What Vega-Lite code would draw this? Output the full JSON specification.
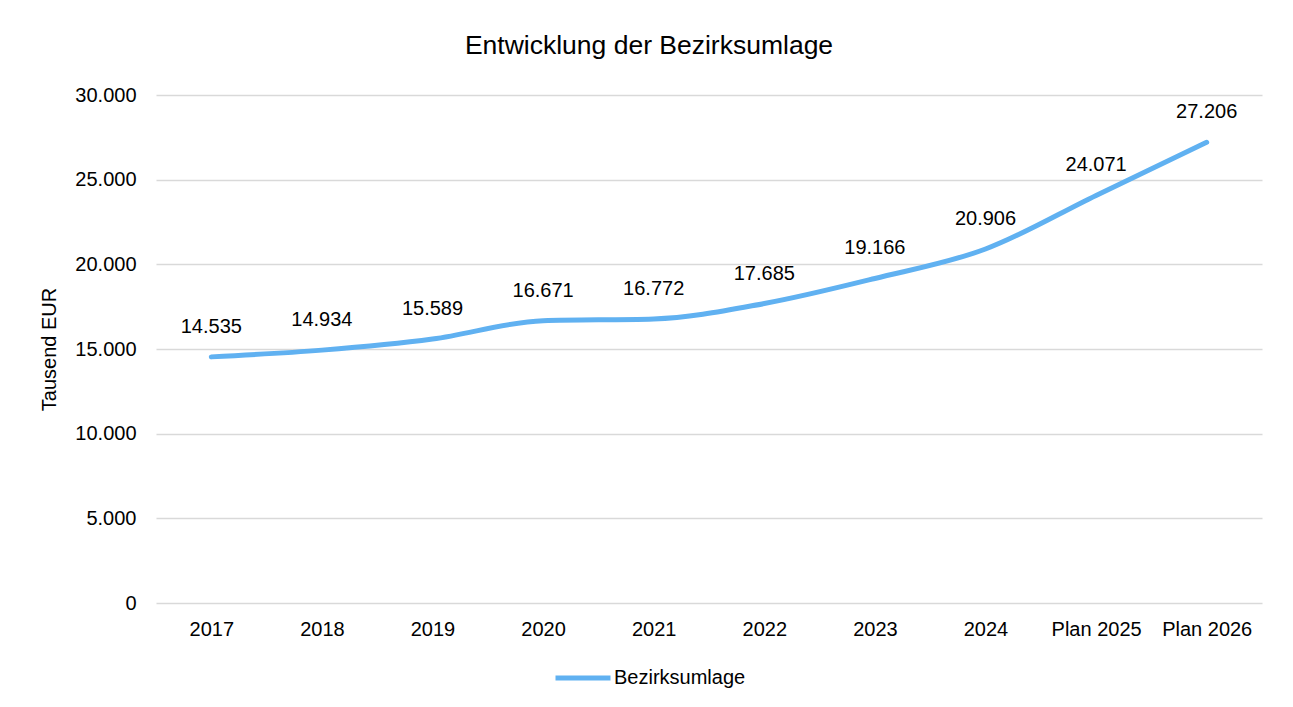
{
  "$schema": "https://vega.github.io/schema/vega-lite/v6.json",
  "autosize": {"type": "none"},
  "width": 1106,
  "height": 508,
  "padding": {"left": 156, "top": 95, "right": 31, "bottom": 104},
  "background": "white",
  "title": {
    "text": "Entwicklung der Bezirksumlage",
    "font": "Liberation Sans",
    "fontSize": 26.5,
    "fontWeight": "normal",
    "color": "#000000",
    "anchor": "middle",
    "dx": -60,
    "offset": 26
  },
  "data": {
    "values": [
      {"jahr": "2017", "wert": 14535, "serie": "Bezirksumlage"},
      {"jahr": "2018", "wert": 14934, "serie": "Bezirksumlage"},
      {"jahr": "2019", "wert": 15589, "serie": "Bezirksumlage"},
      {"jahr": "2020", "wert": 16671, "serie": "Bezirksumlage"},
      {"jahr": "2021", "wert": 16772, "serie": "Bezirksumlage"},
      {"jahr": "2022", "wert": 17685, "serie": "Bezirksumlage"},
      {"jahr": "2023", "wert": 19166, "serie": "Bezirksumlage"},
      {"jahr": "2024", "wert": 20906, "serie": "Bezirksumlage"},
      {"jahr": "Plan 2025", "wert": 24071, "serie": "Bezirksumlage"},
      {"jahr": "Plan 2026", "wert": 27206, "serie": "Bezirksumlage"}
    ]
  },
  "encoding": {
    "x": {
      "field": "jahr",
      "type": "ordinal",
      "sort": null,
      "scale": {"type": "point", "padding": 0.5},
      "axis": {
        "title": null,
        "labelAngle": 0,
        "domain": false,
        "ticks": false,
        "grid": false,
        "labelPadding": 16,
        "labelFontSize": 20,
        "labelFont": "Liberation Sans",
        "labelColor": "#000000"
      }
    },
    "y": {
      "field": "wert",
      "type": "quantitative",
      "scale": {"domain": [0, 30000], "nice": false},
      "axis": {
        "title": "Tausend EUR",
        "titleFont": "Liberation Sans",
        "titleFontSize": 20,
        "titleFontWeight": "normal",
        "titleColor": "#000000",
        "titlePadding": 15,
        "values": [0, 5000, 10000, 15000, 20000, 25000, 30000],
        "format": ",d",
        "domain": false,
        "ticks": false,
        "grid": true,
        "gridColor": "#d9d9d9",
        "gridWidth": 1.5,
        "labelPadding": 20,
        "labelFontSize": 20,
        "labelFont": "Liberation Sans",
        "labelColor": "#000000"
      }
    }
  },
  "layer": [
    {
      "mark": {"type": "line", "interpolate": "monotone", "strokeWidth": 5, "strokeCap": "round"},
      "encoding": {
        "color": {
          "field": "serie",
          "type": "nominal",
          "scale": {"domain": ["Bezirksumlage"], "range": ["#60B1F1"]},
          "legend": {
            "title": null,
            "orient": "none",
            "legendX": 397,
            "legendY": 553,
            "symbolType": "stroke",
            "symbolSize": 3025,
            "symbolStrokeWidth": 5,
            "labelFontSize": 20,
            "labelFont": "Liberation Sans",
            "labelColor": "#000000",
            "labelOffset": 1,
            "padding": 0
          }
        }
      }
    },
    {
      "mark": {"type": "text", "dy": -30, "baseline": "middle", "font": "Liberation Sans", "fontSize": 20, "color": "#000000"},
      "encoding": {
        "text": {"field": "wert", "type": "quantitative", "format": ",d"}
      }
    }
  ],
  "config": {
    "locale": {
      "number": {"decimal": ",", "thousands": ".", "grouping": [3], "currency": ["", " €"]}
    },
    "view": {"stroke": null}
  }
}
